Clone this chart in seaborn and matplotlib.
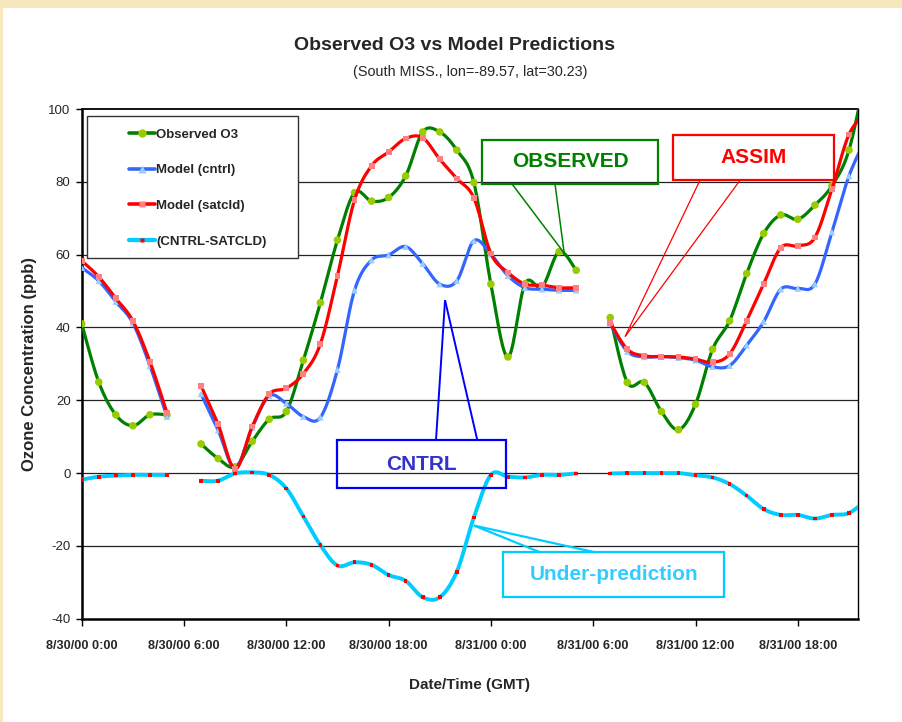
import numpy as np
import pandas as pd
import matplotlib
matplotlib.use("Agg")
import matplotlib.pyplot as plt
from matplotlib.patches import Rectangle
from matplotlib.lines import Line2D
import seaborn as sns

# ---------------- data ----------------
hours = list(range(47))  # hourly, 8/30/00 0:00 .. 8/31/00 22:00
tick_hours = [0, 6, 12, 18, 24, 30, 36, 42]
tick_labels = ["8/30/00 0:00", "8/30/00 6:00", "8/30/00 12:00", "8/30/00 18:00",
               "8/31/00 0:00", "8/31/00 6:00", "8/31/00 12:00", "8/31/00 18:00"]
y_ticks = [-40, -20, 0, 20, 40, 60, 80, 100]

observed = [41, 25, 16, 13, 16, 16, None,
            8, 4, 1.7, 8.7, 14.8, 16.9, 31, 46.8, 64, 77,
            74.7, 75.7, 81.6, 93.7, 93.7, 88.7, 79.8, 51.9, 31.9, 52, 51.1, 60.8, 55.7, None,
            42.7, 24.9, 24.9, 16.9, 11.9, 18.9, 34, 41.8, 54.8, 65.8, 70.9, 69.7, 73.6, 78.9, 88.7, 110]
model_cntrl = [56.4, 52.8, 47.1, 41.2, 29.5, 15.5, None,
               21.7, 11.8, 1.4, 12.5, 21.2, 19.1, 15.5, 15.3, 28.4, 50.2,
               58.5, 59.9, 62.2, 57.5, 51.9, 52.8, 63.8, 60.1, 54.2, 50.9, 50.5, 50.2, 50.2, None,
               41.0, 33.4, 31.9, 32.0, 31.7, 31.0, 29.2, 29.5, 35.1, 41.6, 50.5, 50.7, 51.9, 66.2, 81.6, 92]
model_satcld = [58.3, 53.9, 48.0, 41.8, 30.6, 16.6, None,
                24.0, 13.4, 1.1, 12.8, 21.7, 23.3, 27.3, 35.5, 54.2, 75.0,
                84.4, 88.2, 91.9, 92.1, 86.2, 80.9, 75.6, 60.3, 55.1, 51.9, 51.6, 50.9, 50.9, None,
                41.3, 34.0, 32.2, 32.0, 31.9, 31.3, 30.4, 32.7, 41.8, 52.0, 61.9, 62.4, 64.7, 78.0, 93.0, 99]
cntrl_minus_satcld = [-1.8, -1.0, -0.7, -0.5, -0.5, -0.5, None,
                      -2.1, -2.1, -0.1, 0.2, -0.5, -4.2, -11.9, -19.8, -25.4, -24.5,
                      -25.2, -28.0, -29.6, -34.1, -34.1, -27.1, -12.2, -0.5, -1.0, -1.2, -0.5, -0.5, -0.1, None,
                      -0.1, 0, 0, 0, 0, -0.6, -1.2, -3.0, -6.2, -9.9, -11.5, -11.5, -12.5, -11.5, -11.0, -7.5]
series_names = ["Observed O3", "Model (cntrl)", "Model (satcld)", "(CNTRL-SATCLD)"]

# ---------------- style ----------------
sns.set_style("white")
REG = ["Liberation Sans", "DejaVu Sans"]
plt.rcParams["font.family"] = REG

fig = plt.figure(figsize=(9.02, 7.22), dpi=100)
fig.patch.set_facecolor("#F6E7BC")
fig.add_artist(Rectangle((3 / 902, 0), 1, (722 - 8) / 722, transform=fig.transFigure,
                         facecolor="white", edgecolor="none", zorder=-5))
ax = fig.add_axes([81.7 / 902, 1 - 618.7 / 722, (858 - 81.7) / 902, 509.7 / 722])
ax.set_facecolor("white")


def smooth(x, y, n=16):
    pts = np.column_stack([x, y]).astype(float)
    if len(pts) < 2:
        return pts
    P = np.vstack([pts[0], pts, pts[-1]])
    out = []
    t = np.linspace(0, 1, n, endpoint=False)[:, None]
    for i in range(1, len(P) - 2):
        p0, p1, p2, p3 = P[i - 1], P[i], P[i + 1], P[i + 2]
        c1 = p1 + (p2 - p0) / 6.0
        c2 = p2 - (p3 - p1) / 6.0
        out.append((1 - t) ** 3 * p1 + 3 * (1 - t) ** 2 * t * c1 + 3 * (1 - t) * t ** 2 * c2 + t ** 3 * p2)
    out.append(pts[-1:])
    return np.vstack(out)


def segments(vals):
    segs, cur = [], []
    for h, v in zip(hours, vals):
        if v is None:
            if cur:
                segs.append(cur)
            cur = []
        else:
            cur.append((h, v))
    if cur:
        segs.append(cur)
    return segs


styles = [
    (observed, "#008000", 2.3, "o", "#99CC00", 30),
    (model_cntrl, "#3366FF", 2.3, "^", "#99CCFF", 22),
    (model_satcld, "#FF0000", 2.3, "s", "#FF8080", 18),
    (cntrl_minus_satcld, "#00CCFF", 2.8, "s", "#FF0000", 7),
]
for k, (vals, lc, lw, mk, mc, ms) in enumerate(styles):
    for seg in segments(vals):
        sx = [p[0] for p in seg]
        sy = [p[1] for p in seg]
        sm = smooth(sx, sy)
        df = pd.DataFrame({"x": sm[:, 0], "y": sm[:, 1]})
        sns.lineplot(data=df, x="x", y="y", sort=False, estimator=None, color=lc,
                     linewidth=lw, ax=ax, zorder=3 + k)
        sns.scatterplot(x=sx, y=sy, marker=mk, s=ms, color=mc, edgecolor="none",
                        linewidth=0, ax=ax, zorder=3.5 + k)

ax.set_xlim(0, 45.53)
ax.set_ylim(-40, 100)
ax.set_xticks(tick_hours)
ax.set_xticklabels(tick_labels, fontweight="bold", fontsize=9.1)
ax.set_yticks(y_ticks)
ax.set_yticklabels([str(v) for v in y_ticks], fontsize=9.5)
ax.tick_params(axis="x", direction="out", length=5, width=1, color="black", pad=10, bottom=True)
ax.tick_params(axis="y", direction="out", length=4, width=1, color="black", pad=4, left=True)
ax.grid(False)
for v in y_ticks[1:-1]:
    ax.axhline(v, color="#222222", lw=0.9, zorder=1)
ax.axhline(100, color="black", lw=1.3, zorder=1, clip_on=False)
for side in ["left", "bottom"]:
    ax.spines[side].set_linewidth(1.8)
    ax.spines[side].set_color("black")
ax.spines["right"].set_linewidth(1.0)
ax.spines["right"].set_color("black")
ax.spines["top"].set_visible(False)
ax.set_xlabel("Date/Time (GMT)", fontsize=11, fontweight="bold", labelpad=19)
ax.set_ylabel("Ozone Concentration (ppb)", fontsize=12, fontweight="bold", labelpad=8)

fig.text(455 / 902, 1 - 45 / 722, "Observed O3 vs Model Predictions", ha="center", va="center",
         fontsize=14, fontweight="bold")
fig.text(470 / 902, 1 - 72 / 722, "(South MISS., lon=-89.57, lat=30.23)", ha="center", va="center",
         fontsize=10.4)

# legend
ax.add_patch(Rectangle((0.0068, 0.7077), 0.2718, 0.2786, transform=ax.transAxes,
                       facecolor="white", edgecolor="#333333", lw=1.0, zorder=10))
handles = [Line2D([], [], color=s[1], lw=s[2] + 0.3, marker=s[3], markerfacecolor=s[4],
                  markeredgecolor="none", markersize=[6, 5.5, 5, 3][i])
           for i, s in enumerate(styles)]
leg = ax.legend(handles, series_names, loc="upper left", bbox_to_anchor=(0.052, 0.975),
                frameon=False, prop={"weight": "bold", "size": 9.5},
                handlelength=2.0, handletextpad=0.1, labelspacing=1.78, borderpad=0)
leg.set_zorder(11)

# callouts
callouts = [
    ("OBSERVED", "#008000", "#008000", (23.48, 79.4, 33.8, 91.5), (25.24, 27.76), 79.4, (28.3, 60.4), 1.1),
    ("ASSIM", "#FF0000", "#FF0000", (34.68, 80.4, 44.12, 92.8), (36.26, 38.61), 80.4, (31.87, 37.5), 0.9),
    ("CNTRL", "#3333CC", "#0000FF", (14.99, -4.17, 24.87, 9.08), (20.78, 23.2), 9.08, (21.31, 47.5), 1.4),
    ("Under-prediction", "#33CCFF", "#00CCFF", (24.73, -34.0, 37.67, -21.75), (26.88, 30.1), -21.75, (23.0, -14.4), 1.6),
]
for text, tc, bc, (x0, y0, x1, y1), bases, by, tip, plw in callouts:
    ax.add_patch(Rectangle((x0, y0), x1 - x0, y1 - y0, fill=False, edgecolor=bc, lw=1.6, zorder=12))
    for bx in bases:
        ax.plot([bx, tip[0]], [by, tip[1]], color=bc, lw=plw, zorder=12, solid_capstyle="butt")
    ax.text((x0 + x1) / 2, (y0 + y1) / 2, text, color=tc, fontsize=15, fontweight="bold",
            ha="center", va="center", zorder=13)

fig.savefig("out.png", dpi=100, facecolor=fig.get_facecolor())
